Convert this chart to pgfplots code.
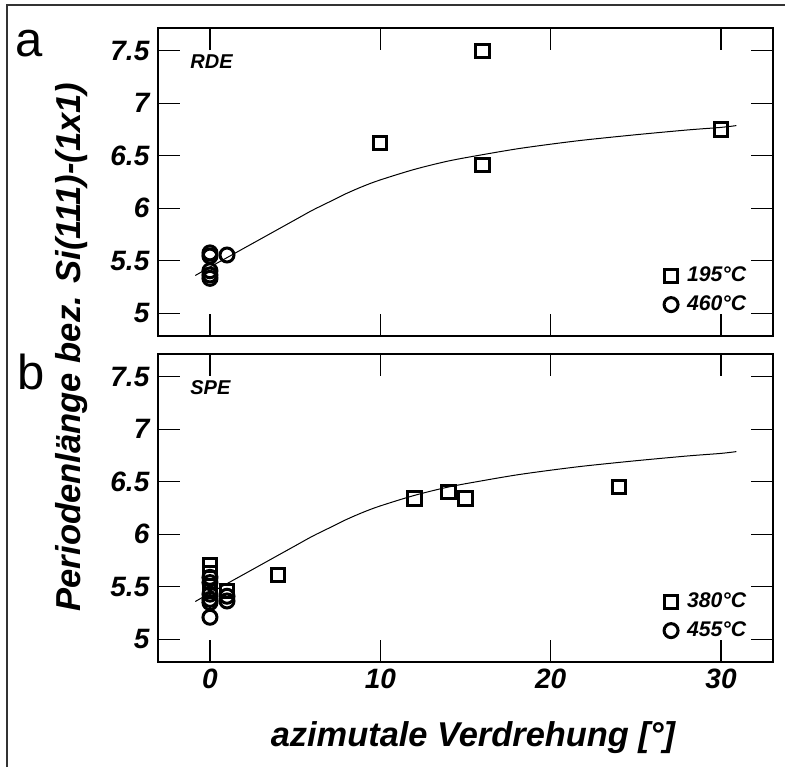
\documentclass[border=0pt]{standalone}
\usepackage{fontspec}
\setmainfont{Liberation Sans}
\usepackage{pgfplots}
\pgfplotsset{compat=1.18}

\pgfplotstableread{
x y
-0.86 5.36
0 5.44
1 5.53
2 5.62
3 5.71
4 5.80
5 5.89
6 5.98
7 6.06
8 6.14
9 6.21
10 6.27
12 6.37
14 6.45
16 6.51
18 6.565
20 6.61
22 6.65
25 6.70
28 6.745
30 6.77
30.9 6.787
}\fitcurve

\pgfplotstableread{
x y
10 6.62
16 7.50
16 6.41
30 6.75
}\rdesq

\pgfplotstableread{
x y
0 5.575
0 5.545
0 5.405
0 5.365
0 5.333
1 5.555
}\rdeci

\pgfplotstableread{
x y
0 5.71
0 5.63
0 5.46
1 5.46
4 5.61
12 6.34
14 6.40
15 6.34
24 6.45
}\spesq

\pgfplotstableread{
x y
0 5.59
0 5.54
0 5.43
0 5.38
0 5.35
0 5.21
1 5.41
1 5.365
}\speci

\pgfplotsset{
  panel/.style={
    scale only axis,
    width=307.5pt, height=154pt,
    xmin=-3.05, xmax=33.05,
    ymin=4.784, ymax=7.716,
    xtick={0,10,20,30},
    ytick={5,5.5,6,6.5,7,7.5},
    tick pos=both, tick align=inside,
    major tick length=11pt,
    axis line style={line width=0.7pt, black},
    tick style={line width=0.6pt, black},
    /pgf/number format/assume math mode=true,
    ticklabel style={font=\fontsize{14}{16}\selectfont\bfseries\itshape},
    yticklabel style={xshift=-0.8pt},
    legend style={draw=none, fill=none, font=\fontsize{10.6}{12}\selectfont\bfseries\itshape,
      anchor=south east, inner sep=0pt, row sep=2.5pt,
      nodes={inner sep=1.5pt},
      /tikz/every odd column/.style={column sep=3pt}},
    legend cell align=left,
    legend image code/.code={\draw[#1] plot coordinates {(0pt,0pt)};},
  },
  sqm/.style={only marks, mark=square, mark size=3.3pt, mark options={line width=1.5pt, black}},
  cim/.style={only marks, mark=o, mark size=3.5pt, mark options={line width=1.5pt, black}},
}

\begin{document}
\begin{tikzpicture}
\useasboundingbox (0,0) rectangle (392.5pt,383.5pt);
\draw[line width=0.7pt, black!80] (3.5pt,0pt) -- (3.5pt,381pt) -- (392.5pt,381pt);

\begin{axis}[panel, at={(79pt,215.5pt)}, anchor=south west, xticklabels={},
  legend style={at={(rel axis cs:0.962,0.062)}}]
\addplot[black, line width=0.5pt, smooth, forget plot] table[x=x,y=y] {\fitcurve};
\addplot[sqm] table[x=x,y=y] {\rdesq};
\addlegendentry{195°C}
\addplot[cim] table[x=x,y=y] {\rdeci};
\addlegendentry{460°C}
\node[anchor=base west, inner sep=0pt, font=\fontsize{10}{11}\selectfont\bfseries\itshape] at (rel axis cs:0.052,0.870) {RDE};
\end{axis}

\begin{axis}[panel, at={(79pt,52.5pt)}, anchor=south west,
  legend style={at={(rel axis cs:0.962,0.062)}}]
\addplot[black, line width=0.5pt, smooth, forget plot] table[x=x,y=y] {\fitcurve};
\addplot[sqm] table[x=x,y=y] {\spesq};
\addlegendentry{380°C}
\addplot[cim] table[x=x,y=y] {\speci};
\addlegendentry{455°C}
\node[anchor=base west, inner sep=0pt, font=\fontsize{10}{11}\selectfont\bfseries\itshape] at (rel axis cs:0.052,0.870) {SPE};
\end{axis}

\node[anchor=base west, inner sep=0pt, font=\fontsize{24.5}{28}\selectfont] at (7.5pt,355pt) {a};
\node[anchor=base west, inner sep=0pt, font=\fontsize{24.5}{28}\selectfont] at (8.5pt,189pt) {b};
\node[rotate=90, inner sep=0pt, font=\fontsize{17.3}{20}\selectfont\bfseries\itshape] at (36pt,210pt) {Periodenlänge bez. Si(111)-(1x1)};
\node[anchor=base, inner sep=0pt, font=\fontsize{17.2}{20}\selectfont\bfseries\itshape] at (236.5pt,10.2pt) {azimutale Verdrehung [°]};
\end{tikzpicture}
\end{document}
